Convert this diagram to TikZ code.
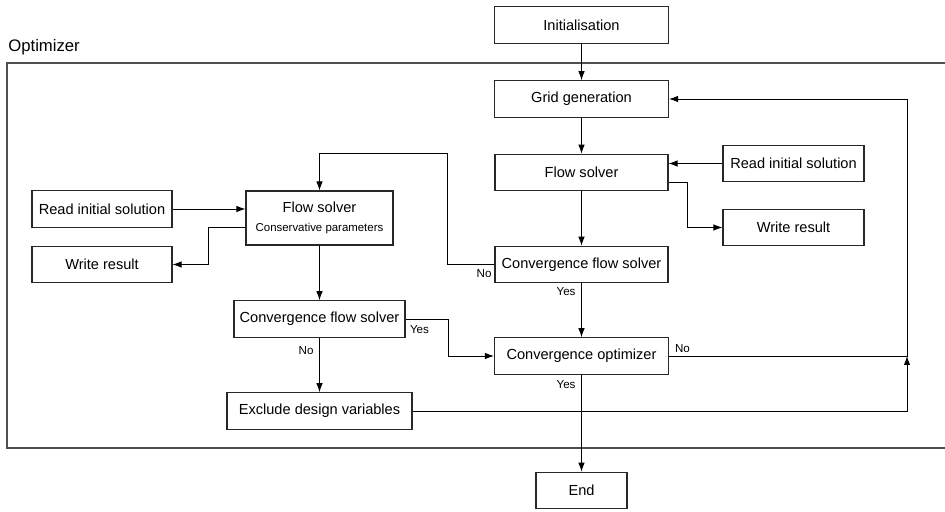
\documentclass[tikz,border=0pt]{standalone}
\usepackage{fontspec}
\setmainfont{Liberation Sans}
\usetikzlibrary{arrows.meta, calc}
\definecolor{fcLine}{RGB}{40, 40, 40}
\definecolor{fcFrame}{RGB}{80, 80, 80}
\tikzset{
  Box/.style   = {draw=fcLine, line width=0.6pt, minimum height=7.3mm, inner sep=1pt,
                  font=\fontsize{8.3}{10}\selectfont, fill=white},
  Arr/.style   = {draw=black, line width=0.55pt, -{Latex[length=1.8mm, width=1.3mm]}},
  Lbl/.style   = {font=\fontsize{6.6}{8}\selectfont, inner sep=1.5pt},
  Frame/.style = {draw=fcFrame, line width=0.7pt},
  Ttl/.style   = {font=\fontsize{9.5}{11}\selectfont, anchor=base west, inner sep=0pt},
}
\newcommand{\px}{0.2mm}

\begin{document}
\begin{tikzpicture}[x=\px, y=-\px]
\useasboundingbox (0,0) rectangle (945,512);

% ======================= OPTIMIZER FRAME =================================
\draw[Frame] (7,63) rectangle (955,448);
\node[Ttl] (optLab) at (8,52) {Optimizer};

% ======================= MAIN COLUMN =====================================
\node[Box, minimum width={174*\px}] (init)  at (581.5,25)    {Initialisation};
\node[Box, minimum width={174*\px}] (grid)  at (581.5,99)    {Grid generation};
\node[Box, minimum width={173*\px}] (flowR) at (581.5,172.5) {Flow solver};
\node[Box, minimum width={173*\px}] (convR) at (581.5,264.5) {Convergence flow solver};
\node[Box, minimum width={174*\px}] (opt)   at (581.5,356)   {Convergence optimizer};
\node[Box, minimum width={91*\px}]  (endN)  at (581.5,490.5) {End};
\node[Box, minimum width={141*\px}] (readR)  at (793.5,163.5) {Read initial solution};
\node[Box, minimum width={141*\px}] (writeR) at (793.5,227.5) {Write result};

% ======================= CONSERVATIVE COLUMN =============================
\node[Box, minimum width={147*\px}, minimum height={54*\px}, align=center] (flowL) at (319.5,218)
  {Flow solver\\[1pt]{\fontsize{6.5}{8}\selectfont Conservative parameters}};
\node[Box, minimum width={171*\px}] (convL) at (319.5,319)   {Convergence flow solver};
\node[Box, minimum width={185*\px}] (excl)  at (319.5,411)   {Exclude design variables};
\node[Box, minimum width={140*\px}] (readL)  at (102,209)    {Read initial solution};
\node[Box, minimum width={140*\px}] (writeL) at (102,264.5)  {Write result};

% ======================= CONNECTORS ======================================
\foreach \a/\b in {init/grid, grid/flowR, flowR/convR, flowL/convL}
    \draw[Arr] (\a) -- (\b);
\draw[Arr] (readR.west) -- (readR.west -| flowR.east);
\draw[Arr] ([yshift=1.8mm]flowR.south east) -- ++(19,0) |- (writeR.west);
\draw[Arr] (readL.east) -- (readL.east -| flowL.west);
\draw[Arr] ([yshift=3.6mm]flowL.south west) -- ++(-37,0) |- (writeL.east);

% not converged: back to the conservative solver
\coordinate (loopL) at (flowL.north |- flowR.north);
\draw[Arr] (convR.west) -- ++(-47,0) |- (loopL) -- (flowL.north);
\node[Lbl, anchor=north east] (noR) at ([yshift=-0.5mm]convR.west) {No};
\draw[Arr] (convR) -- (opt);
\node[Lbl, anchor=north east] (yesR) at ([xshift=-0.6mm, yshift=-0.3mm]convR.south) {Yes};

\draw[Arr] (convL.east) -- ++(43,0) |- (opt.west);
\node[Lbl, anchor=north west] (yesL) at ([xshift=0.3mm, yshift=-0.8mm]convL.east) {Yes};
\draw[Arr] (convL) -- (excl);
\node[Lbl, anchor=north east] (noL) at ([xshift=-0.6mm, yshift=-1.2mm]convL.south) {No};

% feedback to the grid
\coordinate (fb) at (907,356);
\draw[Arr] (excl.east) -| (fb);
\draw[Arr] (opt.east) -- (fb) |- (grid.east);
\node[Lbl, anchor=south west] (noO) at ([xshift=0.6mm]opt.east) {No};
\draw[Arr] (opt) -- (endN);
\node[Lbl, anchor=north east] (yesO) at ([xshift=-0.6mm, yshift=-0.6mm]opt.south) {Yes};

\end{tikzpicture}
\end{document}
